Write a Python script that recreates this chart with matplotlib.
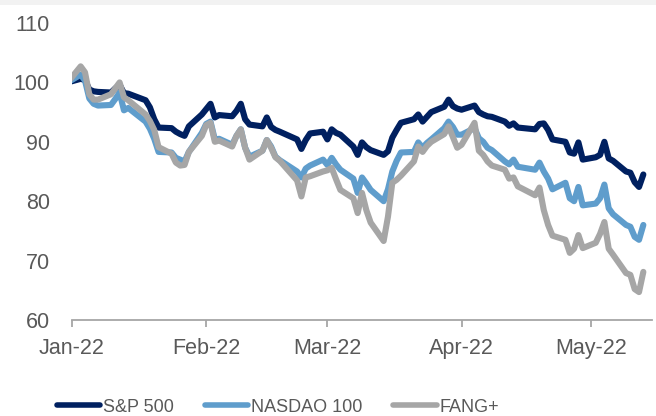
import numpy as np
import pandas as pd
import matplotlib
matplotlib.use("Agg")
import matplotlib.pyplot as plt
import matplotlib.dates as mdates
from matplotlib.patches import Rectangle

# ---- data (rebased, 31 Dec 2021 = 100) ----
holidays = ["2022-01-17", "2022-02-21", "2022-04-15"]
days = pd.bdate_range("2022-01-03", "2022-05-13", freq="C", holidays=holidays)
dates = pd.DatetimeIndex([pd.Timestamp("2021-12-31")]).append(days)

spx = [100.0,
       100.6, 100.4, 98.8, 98.5, 98.4, 98.3, 99.0, 99.6, 98.2, 98.1,
       97.0, 95.8, 93.8, 92.4, 92.3, 91.7, 91.3, 91.0, 92.6, 94.6,
       95.5, 96.4, 94.1, 94.5, 94.3, 95.2, 96.4, 93.8, 92.9, 92.6,
       94.1, 92.5, 92.0, 91.7, 90.4, 88.8, 90.3, 91.4, 91.7,
       90.4, 92.1, 91.5, 91.2, 89.2, 87.8, 89.9, 89.1, 88.6, 87.8,
       88.4, 90.7, 92.0, 93.2, 93.8, 94.6, 93.4, 94.2, 95.0, 95.9,
       97.1, 96.0, 95.6,
       95.4, 96.1, 95.0, 94.6, 94.3, 94.2, 93.4, 92.7, 93.1, 92.4,
       92.1, 93.0, 93.1, 92.0, 90.4, 90.0, 88.2, 88.0, 89.9, 87.0,
       87.4, 87.8, 90.0, 87.2, 86.8, 85.0, 84.8, 83.2, 82.4, 84.5]

ndx = [100.0,
       101.3, 100.3, 97.3, 96.4, 96.1, 96.2, 97.2, 98.3, 95.3, 95.7,
       93.4, 92.2, 90.5, 88.3, 88.2, 87.3, 87.0, 86.7, 88.3, 91.5,
       93.0, 93.4, 90.4, 90.5, 89.5, 91.0, 92.1, 89.0, 87.5, 88.5,
       90.3, 89.2, 87.5, 86.9, 85.0, 84.0, 85.5, 86.0, 87.0,
       86.1, 87.3, 86.2, 85.3, 83.8, 81.4, 84.0, 83.0, 81.9, 80.0,
       82.0, 85.0, 86.8, 88.2, 88.3, 89.9, 89.0, 89.8, 90.4, 92.3,
       93.4, 92.5, 91.2,
       91.2, 92.3, 90.6, 90.0, 89.0, 88.6, 86.7, 86.2, 87.0, 85.8,
       85.3, 86.5, 85.0, 83.8, 82.0, 83.1, 80.5, 80.0, 82.4, 79.3,
       79.6, 80.5, 82.8, 78.8, 77.8, 76.0, 75.7, 74.0, 73.5, 76.0]

fang = [100.0,
        102.7, 101.7, 98.0, 97.1, 97.1, 98.0, 99.0, 100.0, 97.5, 97.0,
        94.6, 93.5, 92.0, 89.1, 88.0, 86.5, 86.0, 86.1, 88.3, 91.0,
        92.8, 93.2, 90.0, 90.2, 89.2, 91.0, 92.1, 89.0, 87.0, 88.5,
        90.3, 89.0, 87.4, 86.8, 83.5, 80.8, 84.0, 84.2, 85.0,
        85.2, 85.6, 83.7, 81.9, 80.5, 78.0, 81.4, 78.5, 76.4, 73.3,
        77.4, 83.1, 83.6, 84.3, 86.7, 89.2, 88.3, 89.3, 90.0, 91.3,
        92.6, 90.8, 89.0,
        89.5, 93.2, 88.5, 87.8, 86.7, 86.0, 85.3, 83.8, 84.0, 82.5,
        81.0, 82.3, 78.5, 76.0, 74.2, 73.5, 71.3, 72.0, 74.3, 72.1,
        73.0, 74.5, 76.5, 72.0, 71.0, 67.9, 67.6, 65.2, 64.7, 68.1]

labels = ["S&P 500", "NASDAO 100", "FANG+"]
colors = ["#002060", "#5f9dcc", "#a6a6a6"]
yticks = [60, 70, 80, 90, 100, 110]

# ---- figure ----
plt.rcParams["font.family"] = ["Liberation Sans", "DejaVu Sans"]
fig = plt.figure(figsize=(6.56, 4.16), dpi=100)
fig.patches.append(Rectangle((0, 1 - 5 / 416), 1, 5 / 416, transform=fig.transFigure,
                             facecolor="#f2f2f2", edgecolor="none"))
ax = fig.add_axes([72 / 656, 1 - 320 / 416, (652 - 72) / 656, (320 - 23) / 416])

for series, lab, col in zip([spx, ndx, fang], labels, colors):
    ax.plot(dates, series, color=col, lw=4.4, label=lab,
            solid_capstyle="round", solid_joinstyle="round")

ax.set_xlim(pd.Timestamp("2022-01-01"), pd.Timestamp("2022-05-15"))
ax.set_ylim(60, 110)
ax.set_yticks(yticks)
ax.xaxis.set_major_locator(mdates.MonthLocator())
ax.xaxis.set_major_formatter(mdates.DateFormatter("%b-%y"))

for s in ["top", "right", "left"]:
    ax.spines[s].set_visible(False)
ax.spines["bottom"].set_color("#a6a6a6")
ax.spines["bottom"].set_linewidth(1.3)
ax.tick_params(axis="x", colors="#595959", labelsize=15.5, length=5, width=1.3,
               color="#a6a6a6", pad=8)
ax.tick_params(axis="y", colors="#595959", labelsize=15.5, length=0, pad=16)

# legend at the bottom edge, kept fully inside the picture
leg = fig.legend(loc="center", bbox_to_anchor=(278 / 656, 9 / 416), ncol=3,
                 frameon=False, handlelength=2.4, handletextpad=0.17,
                 columnspacing=1.7, fontsize=13)
for t in leg.get_texts():
    t.set_color("#595959")
for h in leg.get_lines():
    h.set_linewidth(4.0)
    h.set_solid_capstyle("round")

fig.savefig("out.png", dpi=100)
